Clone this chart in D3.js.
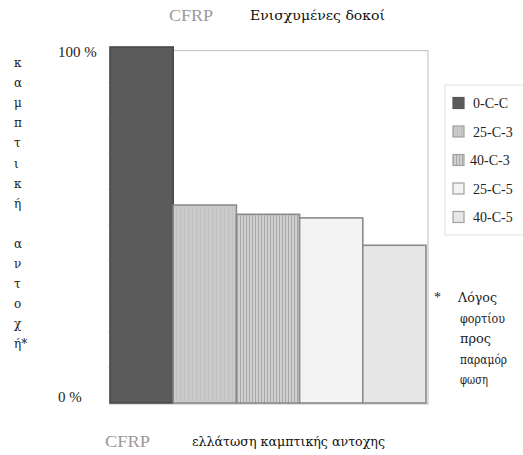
<!DOCTYPE html>
<html><head><meta charset="utf-8">
<script src="https://cdn.jsdelivr.net/npm/d3@7"></script>
<style>body{margin:0;background:#fff}</style>
</head><body>
<svg id="c" width="523" height="455"></svg>
<script>
const categories = ["0-C-C","25-C-3","40-C-3","25-C-5","40-C-5"];
const values = [100, 55.6, 53.0, 52.0, 44.3];
const fills = ["#5b5b5b","#c9c9c9","#bdbdbd","#f3f3f3","#e7e7e7"];
const yTickLabels = ["0 %","100 %"];
const yAxisLetters = ["κ","α","μ","π","τ","ι","κ","ή","","α","ν","τ","ο","χ","ή*"];
const footnoteLines = ["Λόγος","φορτίου","προς","παραμόρ","φωση"];
const footnoteWidths = [39, 45, 31, 47, 28];

const FONT = "'Liberation Serif', 'DejaVu Serif', serif";
const GFONT = "'DejaVu Serif', 'Liberation Serif', serif";
const svg = d3.select("#c").attr("font-family", FONT);
const T = (sel) => sel.attr("font-family", FONT);
const G = (sel) => sel.attr("font-family", GFONT);
const defs = svg.append("defs");
const p = defs.append("pattern").attr("id","vstripe").attr("width",3).attr("height",4).attr("patternUnits","userSpaceOnUse");
p.append("rect").attr("width",3).attr("height",4).attr("fill","#d0d0d0");
p.append("rect").attr("width",1).attr("height",4).attr("fill","#a8a8a8");
const p2 = defs.append("pattern").attr("id","fstripe").attr("width",4).attr("height",4).attr("patternUnits","userSpaceOnUse");
p2.append("rect").attr("width",4).attr("height",4).attr("fill","#cbcbcb");
p2.append("rect").attr("width",1).attr("height",4).attr("fill","#c0c0c0");

const x = d3.scaleBand().domain(categories).range([110, 426]).paddingInner(0).paddingOuter(0);
const y = d3.scaleLinear().domain([0, 100]).range([403, 47]);

svg.append("rect").attr("x", 110).attr("y", y(99)).attr("width", 318).attr("height", y(0) - y(99) + 1)
  .attr("fill","#fff").attr("stroke","#c8c8c8").attr("stroke-width",1.2);

svg.append("g").selectAll("line").data(d3.range(10, 100, 10)).join("line")
  .attr("x1",107).attr("x2",110).attr("y1",d=>y(d)).attr("y2",d=>y(d))
  .attr("stroke","#ececec").attr("stroke-width",1);

const patFill = (d,i) => i===2 ? "url(#vstripe)" : (i===1 ? "url(#fstripe)" : fills[i]);
svg.append("g").selectAll("rect").data(values).join("rect")
  .attr("x",(d,i)=>x(categories[i]))
  .attr("y",d=>y(d))
  .attr("width",x.bandwidth())
  .attr("height",d=>y(0)-y(d))
  .attr("fill",patFill)
  .attr("stroke",(d,i)=> i===0 ? "#4a4a4a" : "#8a8a8a")
  .attr("stroke-width",1.6);

T(svg.append("text")).attr("x",58).attr("y",y(100)+10).attr("font-size",15).attr("fill","#222").text(yTickLabels[1]);
T(svg.append("text")).attr("x",58).attr("y",y(0)-1).attr("font-size",15).attr("fill","#222").text(yTickLabels[0]);

G(svg.append("g").selectAll("text").data(yAxisLetters).join("text"))
  .attr("x",14).attr("y",(d,i)=>67+i*20.1).attr("font-size",12).attr("fill","#222").text(d=>d);

T(svg.append("text")).attr("x",169).attr("y",21).attr("font-size",17).attr("fill","#9a9a9a")
  .attr("textLength",44).attr("lengthAdjust","spacingAndGlyphs").text("CFRP");
G(svg.append("text")).attr("x",250).attr("y",20).attr("font-size",12).attr("fill","#111")
  .attr("textLength",135).attr("lengthAdjust","spacingAndGlyphs").text("Ενισχυμένες δοκοί");
T(svg.append("text")).attr("x",105).attr("y",447).attr("font-size",17).attr("fill","#9a9a9a")
  .attr("textLength",45).attr("lengthAdjust","spacingAndGlyphs").text("CFRP");
G(svg.append("text")).attr("x",192).attr("y",446).attr("font-size",12).attr("fill","#111")
  .attr("textLength",193).attr("lengthAdjust","spacingAndGlyphs").text("ελλάτωση καμπτικής αντοχης");

svg.append("rect").attr("x",445).attr("y",85).attr("width",90).attr("height",150)
  .attr("fill","#fff").attr("stroke","#e2e2e2").attr("stroke-width",1);
const lg = svg.append("g").selectAll("g").data(categories).join("g")
  .attr("transform",(d,i)=>`translate(453,${103 + i*28.5})`);
lg.append("rect").attr("x",0).attr("y",-5.5).attr("width",11).attr("height",11)
  .attr("fill",(d,i)=>patFill(null,i)).attr("stroke",(d,i)=> i===0 ? "#555" : "#a0a0a0").attr("stroke-width",1.2);
T(lg.append("text")).attr("x",(d,i)=> i===2 ? 17 : 20).attr("y",5).attr("font-size",14).attr("fill","#222").text(d=>d);

T(svg.append("text")).attr("x",434).attr("y",302).attr("font-size",14).attr("fill","#222").text("*");
G(svg.append("g").selectAll("text").data(footnoteLines).join("text"))
  .attr("x",(d,i)=> i===0 ? 458 : 460).attr("y",(d,i)=>302+i*20.5).attr("font-size",12).attr("fill","#222")
  .attr("textLength",(d,i)=>footnoteWidths[i]).attr("lengthAdjust","spacingAndGlyphs").text(d=>d);
</script>
</body></html>
